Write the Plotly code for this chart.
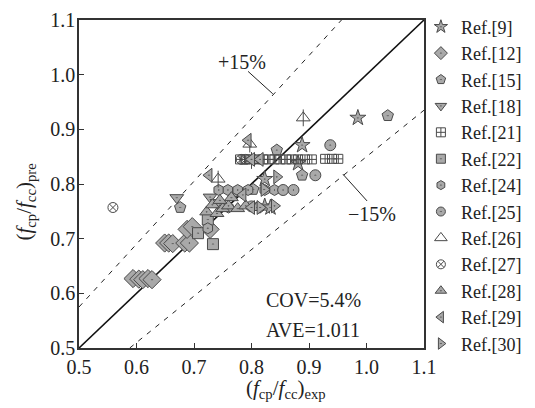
import plotly.graph_objects as go

# ---- data ----
ref9_x  = [0.985, 0.888, 0.881, 0.823, 0.823, 0.833]
ref9_y  = [0.921, 0.871, 0.838, 0.809, 0.759, 0.757]

ref12_x = [0.594, 0.604, 0.611, 0.620, 0.627, 0.649, 0.656, 0.663, 0.684, 0.692, 0.688, 0.728, 0.697]
ref12_y = [0.627, 0.626, 0.625, 0.627, 0.625, 0.692, 0.692, 0.691, 0.692, 0.692, 0.717, 0.717, 0.722]

ref15_x = [1.037, 0.888, 0.844, 0.676, 0.775, 0.803]
ref15_y = [0.925, 0.816, 0.862, 0.757, 0.786, 0.790]

ref18_x = [0.670, 0.728, 0.740]
ref18_y = [0.775, 0.776, 0.766]

ref21_x = [0.780, 0.790, 0.800, 0.810, 0.820, 0.830, 0.840, 0.850, 0.860, 0.870, 0.881, 0.893, 0.905, 0.928, 0.940, 0.951]
ref21_y = [0.845, 0.845, 0.845, 0.845, 0.845, 0.845, 0.845, 0.845, 0.845, 0.845, 0.845, 0.845, 0.845, 0.846, 0.846, 0.846]

ref22_x = [0.707, 0.733, 0.724]
ref22_y = [0.710, 0.690, 0.735]

ref24_x = [0.743, 0.759, 0.776, 0.794, 0.823, 0.840, 0.724, 0.760]
ref24_y = [0.789, 0.789, 0.789, 0.789, 0.789, 0.789, 0.719, 0.757]

ref25_x = [0.937, 0.911, 0.800, 0.855, 0.873]
ref25_y = [0.871, 0.816, 0.759, 0.789, 0.789]

ref26_x = [0.890, 0.742, 0.797, 0.800]
ref26_y = [0.921, 0.809, 0.873, 0.843]

ref27_x = [0.559, 0.782, 0.790]
ref27_y = [0.757, 0.845, 0.845]

ref28_x = [0.722, 0.740, 0.750, 0.760, 0.776, 0.732, 0.745, 0.790, 0.810, 0.765]
ref28_y = [0.749, 0.746, 0.755, 0.760, 0.755, 0.762, 0.770, 0.760, 0.757, 0.775]

ref29_x = [0.794, 0.726, 0.800, 0.815, 0.800, 0.785]
ref29_y = [0.880, 0.816, 0.845, 0.845, 0.757, 0.780]

ref30_x = [0.844, 0.840, 0.815, 0.822]
ref30_y = [0.813, 0.760, 0.757, 0.790]

names = ["Ref.[9]", "Ref.[12]", "Ref.[15]", "Ref.[18]", "Ref.[21]", "Ref.[22]", "Ref.[24]",
         "Ref.[25]", "Ref.[26]", "Ref.[27]", "Ref.[28]", "Ref.[29]", "Ref.[30]"]
xs = [ref9_x, ref12_x, ref15_x, ref18_x, ref21_x, ref22_x, ref24_x, ref25_x, ref26_x, ref27_x, ref28_x, ref29_x, ref30_x]
ys = [ref9_y, ref12_y, ref15_y, ref18_y, ref21_y, ref22_y, ref24_y, ref25_y, ref26_y, ref27_y, ref28_y, ref29_y, ref30_y]
symbols = ["star-dot", "diamond-dot", "pentagon-dot", "triangle-down-dot", "square-cross-open",
           "square-dot", "hexagon-dot", "circle-dot", "triangle-up-open", "circle-x-open",
           "triangle-up-dot", "triangle-left-dot", "triangle-right-dot"]
sizes = [12, 14, 12, 12, 9, 11, 11, 11, 12, 10, 12, 12, 12]
legend_sizes = [10, 10, 10, 10, 9, 9, 9, 9, 11, 9, 10, 10, 10]

axis_min, axis_max = 0.5, 1.1
ticks = [0.5, 0.6, 0.7, 0.8, 0.9, 1.0, 1.1]
tick_text = ["0.5", "0.6", "0.7", "0.8", "0.9", "1.0", "1.1"]
upper_ratio, lower_ratio = 1.15, 0.85

FILL = "#a9a9a9"
EDGE = "#4a4a4a"
FONT = "Liberation Serif, Times New Roman, Tinos, serif"

fig = go.Figure()

# reference lines
fig.add_trace(go.Scatter(x=[axis_min, axis_max], y=[axis_min, axis_max], mode="lines",
                         line=dict(color="#111", width=1.6), showlegend=False, hoverinfo="skip"))
fig.add_trace(go.Scatter(x=[axis_min, axis_max / upper_ratio], y=[axis_min * upper_ratio, axis_max],
                         mode="lines", line=dict(color="#222", width=1, dash="5px,6px"),
                         showlegend=False, hoverinfo="skip"))
fig.add_trace(go.Scatter(x=[axis_min / lower_ratio, axis_max], y=[axis_min, axis_max * lower_ratio],
                         mode="lines", line=dict(color="#222", width=1, dash="5px,6px"),
                         showlegend=False, hoverinfo="skip"))

for n, x, y, s, sz in zip(names, xs, ys, symbols, sizes):
    open_sym = s.endswith("-open")
    fig.add_trace(go.Scatter(
        x=x, y=y, mode="markers", name=n, showlegend=False,
        marker=dict(symbol=s, size=sz,
                    color=EDGE if open_sym else FILL,
                    line=dict(color=EDGE, width=1))))
    if n == "Ref.[26]":
        fig.add_trace(go.Scatter(
            x=x, y=y, mode="markers", showlegend=False,
            marker=dict(symbol="line-ns-open", size=sz, color=EDGE, line=dict(color=EDGE, width=1))))

# legend-only entries (smaller symbols, like the reference legend)
for n, s, lsz in zip(names, symbols, legend_sizes):
    open_sym = s.endswith("-open")
    fig.add_trace(go.Scatter(
        x=[None], y=[None], mode="markers", name=n, showlegend=True,
        marker=dict(symbol=s, size=lsz,
                    color=EDGE if open_sym else FILL,
                    line=dict(color=EDGE, width=1))))

# annotations
ann_font = dict(family=FONT, size=20, color="#222")
fig.add_annotation(x=0.783, y=1.024, text="+15%", showarrow=False, font=ann_font)
fig.add_annotation(x=1.010, y=0.746, text="\u221215%", showarrow=False, font=ann_font)
fig.add_annotation(x=0.907, y=0.587, text="COV=5.4%", showarrow=False, font=ann_font)
fig.add_annotation(x=0.907, y=0.533, text="AVE=1.011", showarrow=False, font=ann_font)
fig.add_shape(type="line", x0=0.794, y0=1.006, x1=0.837, y1=0.965, line=dict(color="#222", width=1))
fig.add_shape(type="line", x0=0.959, y0=0.818, x1=1.001, y1=0.769, line=dict(color="#222", width=1))

# axis titles
title_font = dict(family=FONT, size=21, color="#222")
fig.add_annotation(xref="paper", yref="paper", x=0.60, y=-0.125, xanchor="center", yanchor="middle",
                   text="(<i>f</i><sub>cp</sub>/<i>f</i><sub>cc</sub>)<sub>exp</sub>",
                   showarrow=False, font=title_font)
fig.add_annotation(xref="paper", yref="paper", x=-0.157, y=0.446, xanchor="center", yanchor="middle",
                   textangle=-90,
                   text="(<i>f</i><sub>cp</sub>/<i>f</i><sub>cc</sub>)<sub>pre</sub>",
                   showarrow=False, font=title_font)

axis_common = dict(range=[axis_min, axis_max], tickvals=ticks, ticktext=tick_text,
                   ticks="inside", ticklen=5, tickwidth=1, tickcolor="#333",
                   showline=True, linecolor="#333", linewidth=1.5, mirror=True,
                   showgrid=False, zeroline=False, automargin=False,
                   ticklabeloverflow="allow",
                   tickfont=dict(family=FONT, size=20, color="#222"))

fig.update_xaxes(**axis_common, ticklabelstandoff=0)
fig.update_yaxes(**axis_common, ticklabelstandoff=-2)

# page body has an 8px margin, so the figure is 8px smaller and offset accordingly
fig.update_layout(
    width=527, height=400,
    margin=dict(l=71, r=111, t=12, b=60, autoexpand=False),
    paper_bgcolor="white", plot_bgcolor="white",
    showlegend=True,
    legend=dict(x=0.991, xanchor="left", y=1.035, yanchor="top",
                font=dict(family=FONT, size=18, color="#222"),
                traceorder="normal", maxheight=1,
                bgcolor="rgba(0,0,0,0)", itemwidth=30),
)

fig.write_html("out.html")
